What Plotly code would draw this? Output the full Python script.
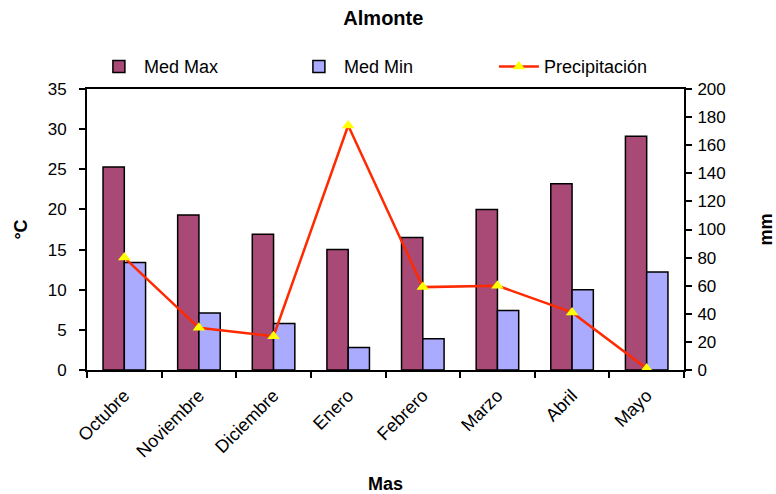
import plotly.graph_objects as go

meses = ["Octubre", "Noviembre", "Diciembre", "Enero", "Febrero", "Marzo", "Abril", "Mayo"]
med_max = [25.3, 19.3, 16.9, 15.0, 16.5, 20.0, 23.2, 29.1]
med_min = [13.4, 7.1, 5.8, 2.8, 3.9, 7.4, 10.0, 12.2]
precipitacion = [80, 30, 24, 174, 59, 60, 41, 1]

FONT = "Liberation Sans, Arial, sans-serif"

fig = go.Figure()
fig.add_trace(go.Bar(
    x=meses, y=med_max, name="Med Max",
    marker=dict(color="#A94A76", line=dict(color="black", width=1.5)),
))
fig.add_trace(go.Bar(
    x=meses, y=med_min, name="Med Min",
    marker=dict(color="#AAAAFF", line=dict(color="black", width=1.5)),
))
fig.add_trace(go.Scatter(
    x=meses, y=precipitacion, name="Precipitación", yaxis="y2",
    mode="lines+markers",
    line=dict(color="#FF2A00", width=2.5),
    marker=dict(symbol="triangle-up", size=11, color="#FFFF00"),
))

fig.update_layout(
    width=776, height=494,
    margin=dict(l=87, r=92, t=89, b=124, autoexpand=False),
    paper_bgcolor="white", plot_bgcolor="white",
    font=dict(family=FONT, size=15, color="black"),
    title=dict(text="<b>Almonte</b>", x=0.494, xanchor="center", y=0.963, yanchor="middle",
               font=dict(size=20)),
    barmode="group", bargap=0.43, bargroupgap=0,
    showlegend=True,
    legend=dict(orientation="h", xref="container", yref="container",
                x=0.121, xanchor="left", y=0.865, yanchor="middle",
                entrywidth=145, entrywidthmode="pixels",
                font=dict(size=18), traceorder="normal", itemwidth=40),
    xaxis=dict(
        type="category", tickangle=-45, tickson="boundaries", automargin=False,
        ticks="outside", ticklen=6, tickcolor="black", tickwidth=1.5,
        showline=True, linecolor="black", linewidth=2, mirror=True,
        showgrid=False, tickfont=dict(size=18), ticklabelstandoff=6,
        title=dict(text="<b>Mas</b>", font=dict(size=18), standoff=28),
    ),
    yaxis=dict(
        range=[0, 35], dtick=5, ticks="outside", ticklen=6, tickcolor="black", tickwidth=1.5,
        showline=True, linecolor="black", linewidth=2, showgrid=False, zeroline=False,
        tickfont=dict(size=17), automargin=False, ticklabelstandoff=9,
        title=dict(text="<b>°C</b>", font=dict(size=18), standoff=15),
    ),
    yaxis2=dict(
        range=[0, 200], dtick=20, overlaying="y", side="right",
        ticks="outside", ticklen=6, tickcolor="black", tickwidth=1.5,
        showline=True, linecolor="black", linewidth=2, showgrid=False, zeroline=False,
        tickfont=dict(size=17), automargin=False, ticklabelstandoff=2,
        title=dict(text="<b>mm</b>", font=dict(size=18), standoff=38),
    ),
)

fig.write_html("out.html")
